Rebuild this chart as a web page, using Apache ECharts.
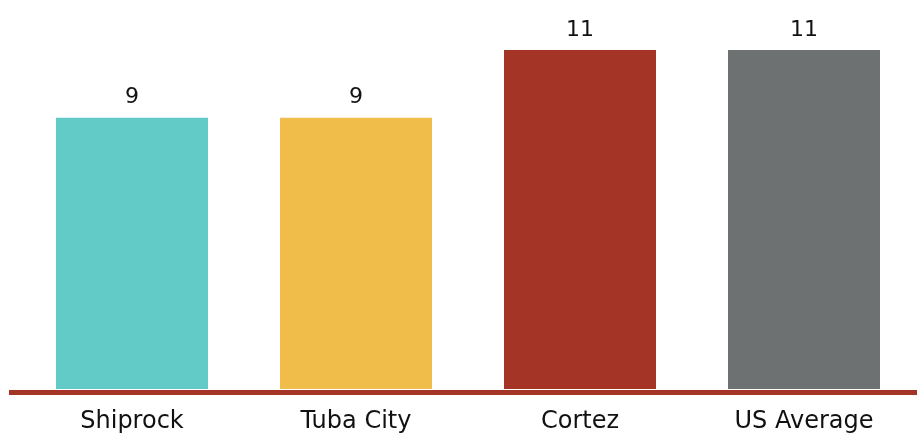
<!DOCTYPE html>
<html>
<head>
<meta charset="utf-8">
<script src="https://cdn.jsdelivr.net/npm/echarts@6/dist/echarts.min.js"></script>
<style>html,body{margin:0;padding:0;background:#fff}#c{width:917px;height:434px}</style>
</head>
<body>
<div id="c"></div>
<script>
const categories = ["Shiprock", "Tuba City", "Cortez", "US Average"];
const values = [9, 9, 11, 11];
const colors = ["#62CBC7", "#F0BC4A", "#A33426", "#6E7172"];

const chart = echarts.init(document.getElementById('c'), null, {renderer: 'canvas'});
const font = "'DejaVu Sans', sans-serif";
chart.setOption({
  animation: false,
  grid: [
    {left: 20, right: 1, top: 16, bottom: 44, containLabel: false},
    {left: 9, right: 0, top: 16, bottom: 42, containLabel: false}
  ],
  xAxis: [
    {
      type: 'category', gridIndex: 0, data: categories,
      axisLine: {show: false}, axisTick: {show: false},
      axisLabel: {color: '#111', fontFamily: font, fontSize: 24, margin: 21, interval: 0}
    },
    {
      type: 'category', gridIndex: 1, data: [''],
      axisLine: {show: true, lineStyle: {color: '#A33426', width: 5, cap: 'butt'}},
      axisTick: {show: false}, axisLabel: {show: false}
    }
  ],
  yAxis: [
    {type: 'value', gridIndex: 0, min: 1, max: 12, show: false},
    {type: 'value', gridIndex: 1, min: 1, max: 12, show: false}
  ],
  series: [{
    type: 'bar', xAxisIndex: 0, yAxisIndex: 0, barWidth: 152,
    data: values.map((v, i) => ({value: v, itemStyle: {color: colors[i]}})),
    label: {show: true, position: 'top', distance: 9, color: '#111', fontFamily: font, fontSize: 22}
  }]
});
</script>
</body>
</html>
